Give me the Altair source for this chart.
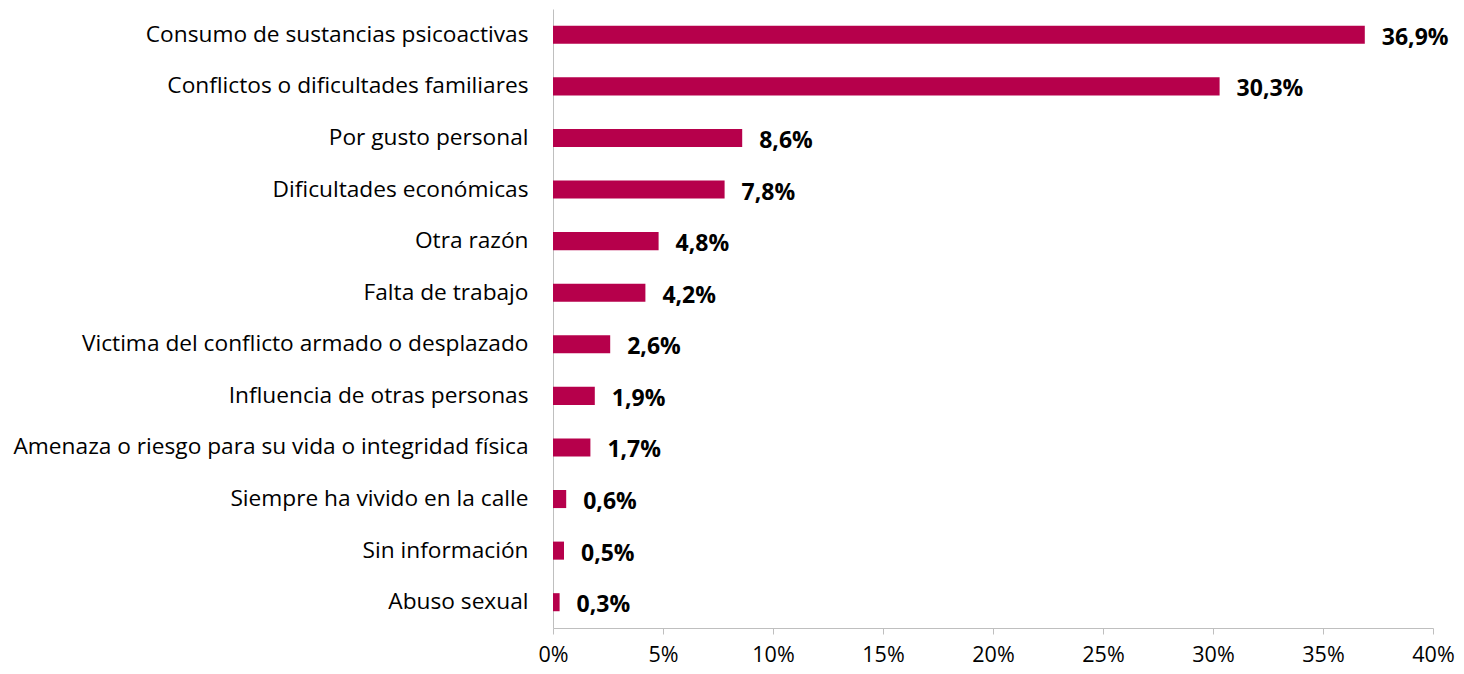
import altair as alt
import pandas as pd

categories = [
    "Consumo de sustancias psicoactivas",
    "Conflictos o dificultades familiares",
    "Por gusto personal",
    "Dificultades económicas",
    "Otra razón",
    "Falta de trabajo",
    "Victima del conflicto armado o desplazado",
    "Influencia de otras personas",
    "Amenaza o riesgo para su vida o integridad física",
    "Siempre ha vivido en la calle",
    "Sin información",
    "Abuso sexual",
]
values = [36.9, 30.3, 8.6, 7.8, 4.8, 4.2, 2.6, 1.9, 1.7, 0.6, 0.5, 0.3]
labels = ["36,9%", "30,3%", "8,6%", "7,8%", "4,8%", "4,2%", "2,6%", "1,9%", "1,7%", "0,6%", "0,5%", "0,3%"]

df = pd.DataFrame({"cat": categories, "val": values, "lab": labels})

FONT = "Open Sans"

y = alt.Y("cat:N", sort=categories, title=None,
          scale=alt.Scale(paddingInner=0.65, paddingOuter=0.325),
          axis=alt.Axis(ticks=False, labelPadding=25, labelFontSize=22.7, labelFont=FONT,
                        labelColor="#000000", domainColor="#BFBFBF", labelLimit=700))
x = alt.X("val:Q", title=None,
          scale=alt.Scale(domain=[0, 40], nice=False),
          axis=alt.Axis(values=[0, 5, 10, 15, 20, 25, 30, 35, 40], labelExpr="datum.value + '%'",
                        grid=False, tickSize=6, tickColor="#BFBFBF", domainColor="#BFBFBF",
                        labelFontSize=21.5, labelFont=FONT, labelColor="#000000", labelPadding=10,
                        labelFlush=False))

bars = alt.Chart(df).mark_bar(color="#B6004B").encode(x=x, y=y)
text = alt.Chart(df).mark_text(align="left", dx=17, dy=3, fontSize=23, fontWeight="bold",
                               font=FONT, color="#000000").encode(x="val:Q", y=alt.Y("cat:N", sort=categories), text="lab:N")

chart = (bars + text).properties(width=880, height=619, padding={"top": 1, "left": 5, "right": 0, "bottom": 5}).configure_view(stroke=None)

chart.save("out.html", embed_options={"renderer": "svg", "actions": False})
